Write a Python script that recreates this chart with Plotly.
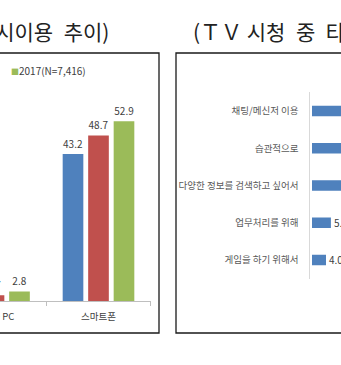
import plotly.graph_objects as go

W, H = 341, 365
FONT = "Noto Sans CJK KR"
EN_SP = "\u2002"

# Left panel: simultaneous media use while watching TV, by device and year
devices = ["노트북 PC", "스마트폰"]
years = ["2015", "2016", "2017"]
use_by_year = {
    "2015": [2.1, 43.2],
    "2016": [1.7, 48.7],
    "2017": [2.8, 52.9],
}
year_colors = ["#4F81BD", "#C0504D", "#9BBB59"]
sample_2017 = "7,416"

# Right panel: reasons for using other media while watching TV
reasons = [
    "채팅/메신저 이용",
    "습관적으로",
    "다양한 정보를 검색하고 싶어서",
    "업무처리를 위해",
    "게임을 하기 위해서",
]
reason_share = [36.5, 24.8, 14.6, 5.4, 4.0]
reason_color = "#4F81BD"

left_title = EN_SP.join(["(ＴＶ 시청", "중", "매체", "동시이용", "추이)"])
right_title = "(ＴＶ 시청" + EN_SP + "중" + EN_SP + "타매체" + EN_SP + "이용" + EN_SP + "이유)"


def px(x):
    return x / W


def py(y):
    return 1 - y / H


# left category axis geometry (paper units)
LX_DOMAIN = [0, px(150.75)]
LX_RANGE = [0.0574, 1.5]


def left_cat_to_paper(i):
    frac = (i - LX_RANGE[0]) / (LX_RANGE[1] - LX_RANGE[0])
    return LX_DOMAIN[0] + frac * (LX_DOMAIN[1] - LX_DOMAIN[0])


fig = go.Figure()

for year, color in zip(years, year_colors):
    vals = use_by_year[year]
    fig.add_trace(go.Bar(
        x=devices, y=vals, name=year,
        marker=dict(color=color, line=dict(width=0)),
        text=[f"{v:.1f}" for v in vals], textposition="outside",
        constraintext="none",
        textfont=dict(size=10, color="#404040", family=FONT),
        xaxis="x", yaxis="y", showlegend=False,
    ))

fig.add_trace(go.Bar(
    y=reasons, x=reason_share, orientation="h",
    width=0.28,
    marker=dict(color=reason_color, line=dict(width=0)),
    text=[f"{v:.1f}" for v in reason_share], textposition="outside",
    constraintext="none",
    textfont=dict(size=10, color="#404040", family=FONT),
    xaxis="x2", yaxis="y2", showlegend=False,
))

annotations = [
    dict(text=left_title, xref="paper", yref="paper",
         x=px(111), y=py(31), xanchor="right", yanchor="middle",
         showarrow=False, font=dict(size=21, color="#222222")),
    dict(text=right_title, xref="paper", yref="paper",
         x=px(191), y=py(31), xanchor="left", yanchor="middle",
         showarrow=False, font=dict(size=21, color="#222222")),
    dict(text=f"<span style='color:{year_colors[2]};font-size:8px'>■</span>"
              f"{years[2]}(N={sample_2017})",
         xref="paper", yref="paper",
         x=px(9), y=py(71), xanchor="left", yanchor="middle",
         showarrow=False, font=dict(size=10, color="#404040")),
]

# device labels under the left chart's category axis
for i, name in enumerate(devices):
    annotations.append(dict(
        text=name, xref="paper", yref="paper",
        x=left_cat_to_paper(i), y=py(315.5), xanchor="center", yanchor="middle",
        showarrow=False, font=dict(size=9.5, color="#404040"),
    ))

fig.update_layout(
    width=W, height=H,
    margin=dict(l=0, r=0, t=0, b=0),
    paper_bgcolor="white", plot_bgcolor="white",
    font=dict(family=FONT, color="#404040"),
    barmode="group", bargap=0.268, bargroupgap=0.19,
    xaxis=dict(
        domain=LX_DOMAIN, type="category",
        categoryorder="array", categoryarray=devices,
        range=LX_RANGE,
        showline=True, linecolor="#BFBFBF", linewidth=1,
        ticks="outside", tickson="boundaries", ticklen=4, tickcolor="#BFBFBF",
        showticklabels=False,
        showgrid=False, zeroline=False, fixedrange=True,
    ),
    yaxis=dict(
        domain=[py(301), py(80)], range=[0, 65],
        visible=False, fixedrange=True,
    ),
    xaxis2=dict(
        domain=[px(309.5), 1], anchor="y2",
        range=[-0.714, 8.286], visible=False, fixedrange=True,
    ),
    yaxis2=dict(
        domain=[py(278.6), py(92.4)], anchor="x2", type="category",
        categoryorder="array", categoryarray=reasons, autorange="reversed",
        showline=True, linecolor="#D9D9D9", linewidth=1,
        ticks="", ticklabelstandoff=8,
        tickfont=dict(size=9.5, color="#595959"),
        showgrid=False, zeroline=False, fixedrange=True,
    ),
    shapes=[
        dict(type="rect", xref="paper", yref="paper",
             x0=-0.2, x1=px(159), y0=py(333), y1=py(53),
             line=dict(color="#1A1A1A", width=1.3)),
        dict(type="rect", xref="paper", yref="paper",
             x0=px(176), x1=1.2, y0=py(333), y1=py(53),
             line=dict(color="#1A1A1A", width=1.3)),
    ],
    annotations=annotations,
)

fig.write_html("out.html")
